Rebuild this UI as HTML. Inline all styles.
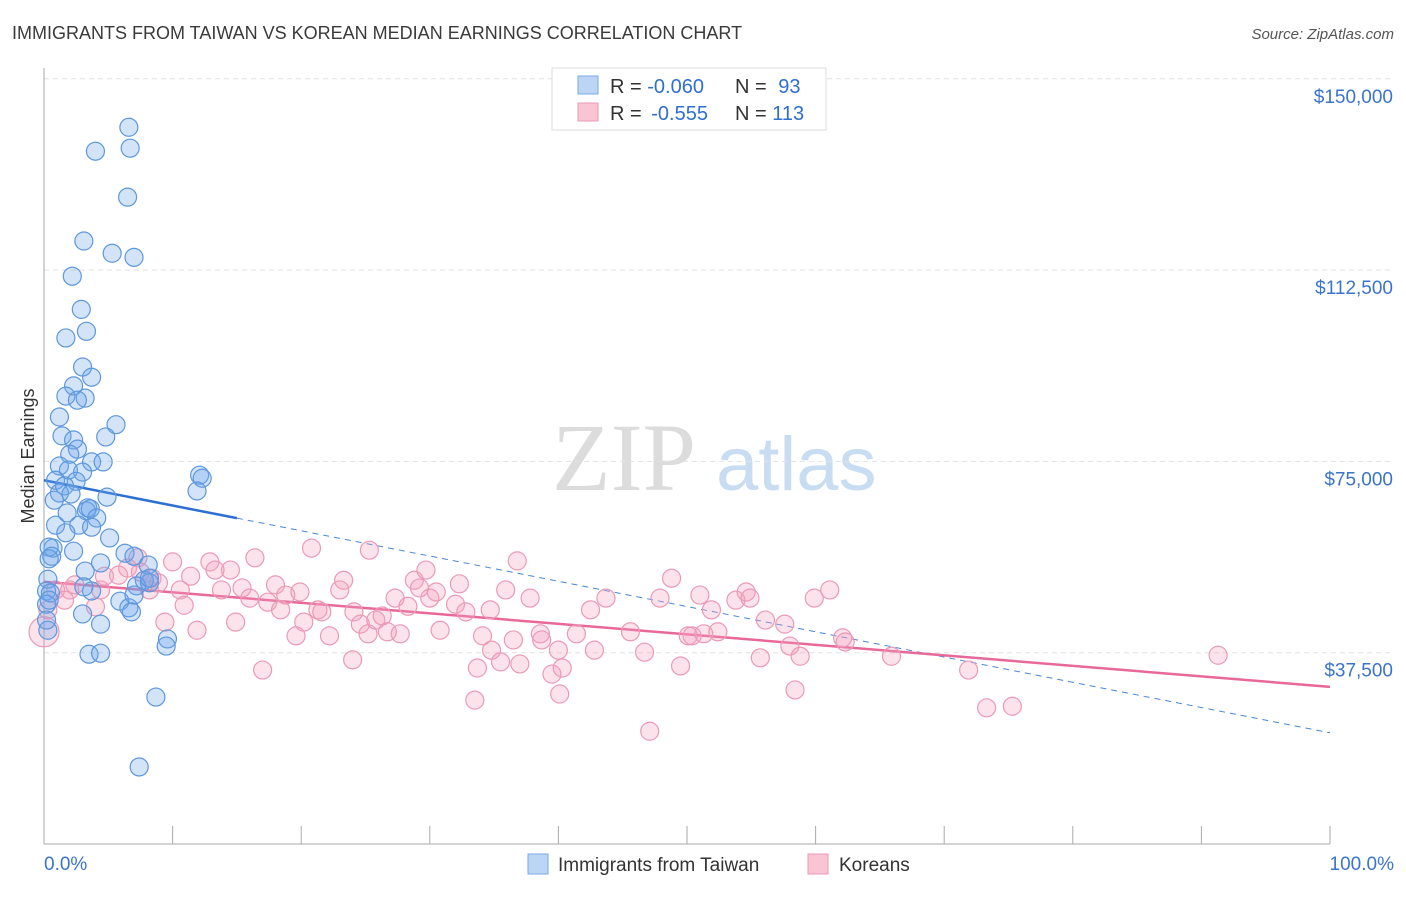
<!DOCTYPE html>
<html><head><meta charset="utf-8">
<style>
body{margin:0;background:#fff;font-family:"Liberation Sans",sans-serif;}
svg text{font-family:"Liberation Sans",sans-serif;}
</style></head>
<body>
<svg id="chart" width="1406" height="892" viewBox="0 0 1406 892" xmlns="http://www.w3.org/2000/svg">
<text x="12" y="39" font-size="18" fill="#3a3a3a">IMMIGRANTS FROM TAIWAN VS KOREAN MEDIAN EARNINGS CORRELATION CHART</text>
<text x="1394" y="39" font-size="15" fill="#555" font-style="italic" text-anchor="end">Source: ZipAtlas.com</text>
<g>
<text x="552" y="490" font-size="96" fill="#dcdcdc" font-family="Liberation Serif" style="font-family:'Liberation Serif',serif">ZIP</text>
<text x="716" y="490" font-size="76" fill="#c8dcf2">atlas</text>
</g>
<g id="grid"></g>
<g id="axes"></g>
<g id="trends"></g>
<g id="pts"></g>
<text transform="translate(34,456) rotate(-90)" font-size="18" fill="#333" text-anchor="middle">Median Earnings</text>
<g>
<rect x="552" y="68" width="274" height="62" fill="#fff" stroke="#ddd"/>
<rect x="578" y="76" width="20" height="18" fill="#bcd5f5" stroke="#7aaae6"/>
<rect x="578" y="103" width="20" height="18" fill="#f9c5d5" stroke="#eb9ab5"/>
<text x="610" y="93" font-size="20" fill="#333">R = <tspan fill="#2f6fd0">-0.060</tspan></text>
<text x="735" y="93" font-size="20" fill="#333">N = <tspan fill="#2f6fd0" dx="6">93</tspan></text>
<text x="610" y="120" font-size="20" fill="#333">R = <tspan fill="#2f6fd0" dx="4">-0.555</tspan></text>
<text x="735" y="120" font-size="20" fill="#333">N = <tspan fill="#2f6fd0">113</tspan></text>
</g>
<g>
<rect x="528" y="854" width="20" height="20" fill="#bcd5f5" stroke="#7aaae6"/>
<text x="558" y="871" font-size="19" fill="#333">Immigrants from Taiwan</text>
<rect x="808" y="854" width="20" height="20" fill="#f9c5d5" stroke="#eb9ab5"/>
<text x="839" y="871" font-size="19" fill="#333">Koreans</text>
</g>
</svg>
<script>
const yTicks=[37500,75000,112500,150000];
const yTickLabels=["$37,500","$75,000","$112,500","$150,000"];
const xTickLabels=["0.0%","100.0%"];
const taiwanX=[6.6,4.0,6.7,6.5,3.1,5.3,7.0,2.2,2.9,3.3,1.7,3.0,3.7,2.3,1.7,3.2,2.6,1.2,5.6,1.4,2.3,4.8,2.6,2.0,1.2,3.7,4.6,1.9,3.0,0.9,2.5,1.6,1.2,2.1,0.8,4.9,3.4,3.3,3.6,12.1,12.3,11.9,1.8,4.1,2.7,3.7,0.9,1.7,5.1,0.7,0.4,2.3,0.6,0.4,6.3,7.0,8.1,4.4,7.8,8.2,3.2,0.3,0.2,0.5,3.7,3.1,7.2,5.9,6.6,6.8,0.2,0.4,3.0,4.4,9.6,9.5,3.5,4.4,8.7,7.4,0.3,0.2,7.0,8.2];
const taiwanY=[140.5,135.8,136.4,126.8,118.2,115.8,115.0,111.3,104.8,100.5,99.2,93.5,91.5,89.8,87.8,87.4,87.0,83.7,82.2,80.0,79.2,79.8,77.4,76.4,74.1,74.9,74.9,73.3,72.9,71.3,71.1,70.2,68.8,68.6,67.4,68.0,65.9,65.3,65.7,72.3,71.7,69.2,64.9,63.9,62.5,62.1,62.5,61.0,60.0,58.0,58.2,57.4,56.4,55.9,57.0,56.4,54.7,55.1,51.7,51.2,53.5,51.9,49.6,49.2,49.6,50.4,50.6,47.6,46.3,45.5,47.0,47.8,45.1,43.1,40.2,38.8,37.2,37.4,28.8,15.1,41.9,43.9,48.8,52.1];
const koreanX=[0,0.3,0.9,2.0,1.6,2.4,4.0,4.4,4.7,5.8,6.5,7.3,7.5,8.2,8.4,8.9,9.4,10.0,10.6,10.9,11.4,11.9,12.9,13.3,13.8,14.5,14.9,15.4,16.0,16.4,17.0,17.4,18.0,18.4,18.8,19.6,19.9,20.2,20.8,21.3,21.6,22.2,23.0,23.3,24.0,24.1,24.6,25.2,25.3,25.8,26.3,26.7,27.3,27.7,28.3,28.8,29.2,29.7,30.0,30.5,30.8,32.0,32.3,32.8,33.7,34.1,34.7,34.8,35.5,35.9,36.5,36.8,37.0,37.8,38.6,38.7,39.5,40.0,40.3,40.1,41.4,42.5,42.8,43.7,45.6,46.7,47.1,47.9,48.8,49.5,50.4,51.0,51.9,52.4,53.8,54.6,54.9,55.7,56.1,57.6,58.0,58.4,58.8,59.9,61.1,62.1,62.3,65.9,71.9,73.3,75.3,91.3,33.5,51.3,50.1];
const koreanY=[41.6,45.9,49.8,49.8,47.8,50.8,46.5,49.8,52.5,52.7,54.1,56.1,53.3,49.8,52.1,51.2,43.5,55.3,49.8,46.8,52.5,41.9,55.3,53.7,49.8,53.7,43.5,50.2,48.2,56.1,34.1,47.4,50.8,45.9,48.8,40.8,49.4,43.5,58.0,45.9,45.5,40.8,49.8,51.7,36.1,45.5,43.1,41.2,57.6,43.9,44.7,41.6,48.2,41.2,46.6,51.7,50.2,53.7,48.2,49.4,41.9,47.0,51.0,45.5,34.5,40.8,45.9,38.0,35.7,49.8,40.0,55.5,35.3,48.2,41.2,40.0,33.3,38.0,34.5,29.4,41.2,45.9,38.0,48.2,41.6,37.6,22.1,48.2,52.1,34.9,40.8,48.8,45.9,41.6,47.8,49.4,48.2,36.5,43.9,43.1,38.8,30.2,36.8,48.2,49.8,40.4,39.6,36.8,34.1,26.7,27.0,37.0,28.2,41.2,40.8];
const taiwanTrend=[71.3,21.8];
const koreanTrend=[51.4,30.8];
const taiwanSolidEnd=15;

const NS="http://www.w3.org/2000/svg";
const X0=44,X1=1330,Y0=844,PXPER=191.3/37500;
const sx=p=>X0+(X1-X0)*p/100;
const sy=v=>Y0-v*PXPER;
function mk(tag,attrs,parent){const e=document.createElementNS(NS,tag);for(const k in attrs)e.setAttribute(k,attrs[k]);parent.appendChild(e);return e;}
const grid=document.getElementById('grid'),axes=document.getElementById('axes'),tr=document.getElementById('trends'),pts=document.getElementById('pts');
yTicks.forEach((t,i)=>{
  const l=mk('line',{x1:X0,x2:1394,y1:sy(t),y2:sy(t),stroke:'#e2e2e2','stroke-dasharray':'5,4'},grid);
  
  
  const tx=mk('text',{x:1393,y:sy(t)+24,'font-size':19,fill:'#3b74cc','text-anchor':'end'},axes);
  tx.textContent=yTickLabels[i];
  
  
});
const ya=mk('line',{x1:X0,x2:X0,y1:68,y2:Y0,stroke:'#aaa'},axes);


const xa=mk('line',{x1:X0,x2:X1,y1:Y0,y2:Y0,stroke:'#aaa'},axes);


for(let i=0;i<=10;i++){
  const t=mk('line',{x1:sx(i*10),x2:sx(i*10),y1:Y0-18,y2:Y0,stroke:'#aaa'},axes);
  
  
}
[[0,'start',44],[100,'end',1394]].forEach((d,i)=>{
  const t=mk('text',{x:d[2],y:870,'font-size':19,fill:'#3b74cc','text-anchor':d[1]},axes);
  t.textContent=xTickLabels[i];
  
  
});
function pointsOf(xs,ys,fill,stroke,name){
  xs.forEach((x,i)=>{
    const c=mk('circle',{cx:sx(x),cy:sy(ys[i]*1000),r:(name==='korean-point'&&i===0)?15:9,fill:fill,stroke:stroke,'stroke-width':1.2},pts);
    
    
  });
}
pointsOf(koreanX,koreanY,'rgba(244,160,190,0.3)','#eb9ab5','korean-point');
pointsOf(taiwanX,taiwanY,'rgba(110,165,235,0.3)','#5d97dd','taiwan-point');
const tv=p=>taiwanTrend[0]+(taiwanTrend[1]-taiwanTrend[0])*p/100;
const kv=p=>koreanTrend[0]+(koreanTrend[1]-koreanTrend[0])*p/100;
let l1=mk('line',{x1:sx(taiwanSolidEnd),y1:sy(tv(taiwanSolidEnd)*1000),x2:sx(100),y2:sy(tv(100)*1000),stroke:'#4a86d8','stroke-dasharray':'6,5','stroke-width':1},tr);


let l2=mk('line',{x1:sx(0),y1:sy(tv(0)*1000),x2:sx(taiwanSolidEnd),y2:sy(tv(taiwanSolidEnd)*1000),stroke:'#2d6fd2','stroke-width':2.5},tr);


let l3=mk('line',{x1:sx(0),y1:sy(kv(0)*1000),x2:sx(100),y2:sy(kv(100)*1000),stroke:'#e8689a','stroke-width':2.5},tr);


</script>
</body></html>
